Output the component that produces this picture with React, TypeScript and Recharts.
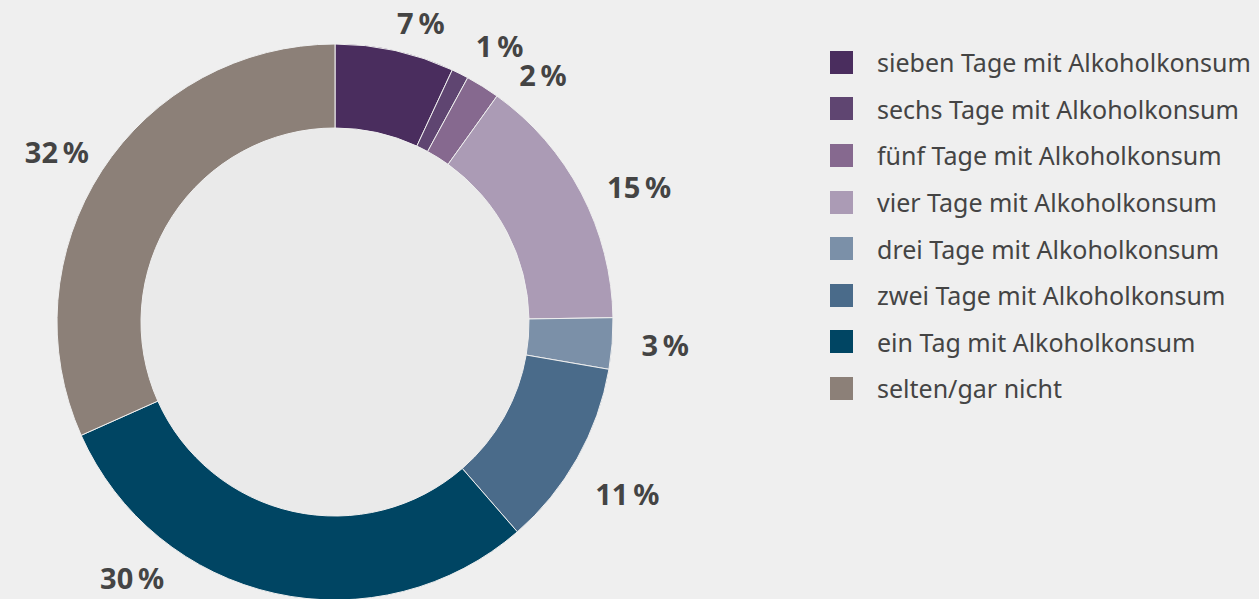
import { PieChart, Pie, Cell, Legend } from 'recharts';

const categories = [
  'sieben Tage mit Alkoholkonsum',
  'sechs Tage mit Alkoholkonsum',
  'fünf Tage mit Alkoholkonsum',
  'vier Tage mit Alkoholkonsum',
  'drei Tage mit Alkoholkonsum',
  'zwei Tage mit Alkoholkonsum',
  'ein Tag mit Alkoholkonsum',
  'selten/gar nicht',
];
const shares = [7, 1, 2, 15, 3, 11, 30, 32];
const colors = ['#4a2d5e', '#5f4571', '#86698f', '#ab9bb5', '#7b90a8', '#4a6b8a', '#004563', '#8c8078'];

// nudges for the outside labels (degrees, px beyond outer radius)
const labelAngleShift = [-3.5, -4, -8, -3.6, 0.5, -1, -26, 1.5];
const labelGap = [34, 44, 45, 55, 53, 61, 48, 48];

const data = categories.map((name, i) => ({ name, value: shares[i] }));
const RAD = Math.PI / 180;

function renderLabel(props: any) {
  const { cx, cy, midAngle, outerRadius, index, value } = props;
  const a = (midAngle + labelAngleShift[index]) * RAD;
  const r = outerRadius + labelGap[index];
  const x = cx + r * Math.cos(a);
  const y = cy - r * Math.sin(a);
  return (
    <text
      x={x}
      y={y}
      textAnchor="middle"
      dominantBaseline="central"
      fill="#444444"
      fontSize={29}
      fontWeight={700}
      fontFamily="'Noto Sans', sans-serif"
    >
      {`${value}\u2009%`}
    </text>
  );
}

function renderLegend() {
  return (
    <div>
      {categories.map((name, i) => (
        <div key={name} style={{ display: 'flex', alignItems: 'center', height: 46.6 }}>
          <div style={{ width: 23, height: 23, background: colors[i], marginRight: 24, flexShrink: 0 }} />
          <span style={{ fontSize: 25, color: '#444444', fontFamily: "'Noto Sans', sans-serif", whiteSpace: 'nowrap' }}>
            {name}
          </span>
        </div>
      ))}
    </div>
  );
}

export default function App() {
  return (
    <div style={{ position: 'absolute', left: 0, top: 0, width: 1259, height: 599, background: '#efefef', overflow: 'hidden' }}>
      <PieChart width={1259} height={599} margin={{ top: 0, right: 0, bottom: 0, left: 0 }}>
        <Pie
          data={[{ name: 'inner', value: 1 }]}
          dataKey="value"
          cx={335}
          cy={322}
          innerRadius={0}
          outerRadius={194}
          fill="#eaeaea"
          stroke="none"
          isAnimationActive={false}
          legendType="none"
        />
        <Pie
          data={data}
          dataKey="value"
          nameKey="name"
          cx={335}
          cy={322}
          innerRadius={194}
          outerRadius={278}
          startAngle={90}
          endAngle={-270}
          stroke="#efefef"
          strokeWidth={1}
          label={renderLabel}
          labelLine={false}
          isAnimationActive={false}
        >
          {data.map((d, i) => (
            <Cell key={d.name} fill={colors[i]} />
          ))}
        </Pie>
        <Legend
          layout="vertical"
          content={renderLegend}
          wrapperStyle={{ position: 'absolute', left: 830, top: 39, width: 429 }}
        />
      </PieChart>
    </div>
  );
}
